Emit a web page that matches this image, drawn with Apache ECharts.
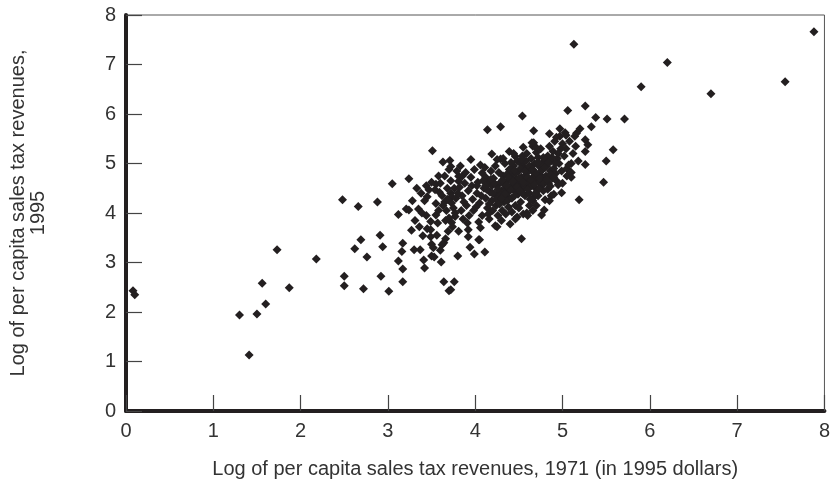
<!DOCTYPE html>
<html>
<head>
<meta charset="utf-8">
<script src="https://cdn.jsdelivr.net/npm/echarts@6/dist/echarts.min.js"></script>
<style>
  html, body { margin: 0; padding: 0; background: #ffffff; }
  #chart { width: 833px; height: 487px; }
</style>
</head>
<body>
<div id="chart"></div>
<script>
// Log of per capita sales tax revenues: [1971 (1995 dollars), 1995]
const xTicks = [0, 1, 2, 3, 4, 5, 6, 7, 8];
const yTicks = [0, 1, 2, 3, 4, 5, 6, 7, 8];

// States / jurisdictions with low 1971 revenues
const lowTail = [
  [0.08, 2.43], [0.10, 2.35],
  [1.30, 1.94], [1.41, 1.13], [1.50, 1.96], [1.60, 2.16], [1.56, 2.58],
  [1.73, 3.26], [1.87, 2.49], [2.18, 3.07],
  [2.48, 4.27], [2.50, 2.72], [2.50, 2.53], [2.66, 4.13], [2.69, 3.46],
  [2.62, 3.28], [2.76, 3.11], [2.72, 2.47], [2.88, 4.22], [2.91, 3.55],
  [2.94, 3.32], [2.92, 2.72], [3.01, 2.42], [3.05, 4.59]
];

// Left side of the main cluster
const clusterLeft = [
  [3.12, 3.97], [3.17, 3.39], [3.16, 3.22], [3.12, 3.03], [3.17, 2.87], [3.17, 2.61],
  [3.24, 4.69], [3.21, 4.08], [3.24, 4.06], [3.27, 3.65], [3.30, 3.26], [3.37, 3.26],
  [3.31, 3.85], [3.40, 3.54], [3.42, 2.89], [3.41, 3.05], [3.35, 4.08], [3.39, 4.00],
  [3.51, 5.26], [3.47, 4.47], [3.45, 4.33], [3.50, 4.62], [3.49, 3.83], [3.49, 3.66],
  [3.49, 3.52], [3.50, 3.37], [3.52, 3.30], [3.50, 3.13], [3.53, 3.11],
  [3.61, 3.01], [3.64, 2.61], [3.76, 2.61], [3.70, 2.43], [3.72, 2.45],
  [3.62, 3.36], [3.64, 3.40], [3.66, 3.48], [3.69, 3.63], [3.80, 3.13], [3.81, 3.63],
  [3.73, 3.81], [3.77, 3.93], [3.55, 4.19], [3.55, 3.96], [3.59, 4.42], [3.54, 4.47],
  [3.72, 4.40], [3.73, 4.33], [3.63, 5.03], [3.71, 5.06], [3.72, 4.94], [3.81, 4.74],
  [3.85, 4.74], [3.81, 4.64], [3.73, 4.20], [3.65, 4.22],
  [3.38, 4.40], [3.42, 4.25], [3.44, 4.55], [3.36, 3.72], [3.44, 3.95], [3.58, 4.75],
  [3.55, 4.58], [3.57, 3.80], [3.45, 3.68], [3.56, 3.55], [3.60, 3.25], [3.33, 4.50],
  [3.28, 4.25], [3.60, 4.60], [3.62, 4.35], [3.65, 4.75], [3.67, 4.05], [3.68, 4.50],
  [3.70, 3.90], [3.72, 4.65], [3.75, 4.10], [3.76, 4.50], [3.78, 4.30], [3.79, 4.85],
  [3.63, 4.15], [3.66, 3.85], [3.74, 3.72], [3.77, 4.00], [3.70, 4.88], [3.58, 4.05],
  [3.68, 4.28]
];

// Dense centre of the cluster
const clusterCore = [
  [3.92, 3.66], [3.92, 3.52], [3.94, 3.31], [3.99, 3.17], [4.11, 3.21], [4.05, 3.46],
  [3.95, 5.08], [4.04, 3.46],
  [3.82, 4.52], [3.85, 4.35], [3.88, 4.60], [3.90, 4.15], [3.92, 4.45], [3.95, 4.72],
  [3.97, 4.28], [3.84, 4.05], [3.86, 3.88], [3.93, 3.95], [3.98, 4.05], [3.89, 4.82],
  [3.80, 4.40], [3.96, 4.55], [3.99, 4.88], [3.87, 4.22], [3.91, 3.80], [3.83, 4.95],
  [4.02, 4.40], [4.03, 4.62], [4.05, 4.20], [4.06, 4.97], [4.08, 4.81], [4.08, 3.95],
  [4.10, 4.50], [4.12, 4.30], [4.12, 4.72], [4.14, 4.10], [4.15, 4.60], [4.16, 3.88],
  [4.17, 4.42], [4.18, 4.85], [4.19, 4.25], [4.20, 4.05], [4.01, 4.12], [4.04, 3.82],
  [4.07, 4.35], [4.11, 4.92], [4.13, 4.48], [4.09, 4.65], [4.16, 4.18], [4.19, 4.55],
  [4.06, 3.70], [4.15, 3.98], [4.02, 4.55],
  [4.14, 5.68], [4.29, 5.74], [4.19, 5.19], [4.29, 5.09], [4.39, 5.24], [4.46, 5.14],
  [4.21, 4.70], [4.22, 4.38], [4.23, 4.95], [4.24, 4.15], [4.25, 4.55], [4.26, 3.95],
  [4.27, 4.82], [4.28, 4.30], [4.29, 4.62], [4.30, 4.45], [4.31, 4.05], [4.32, 4.75],
  [4.33, 4.22], [4.34, 5.00], [4.35, 4.50], [4.36, 4.35], [4.37, 4.65], [4.38, 4.12],
  [4.39, 4.88], [4.30, 3.85], [4.25, 5.08], [4.33, 4.58], [4.27, 4.40], [4.36, 4.78],
  [4.22, 4.60], [4.38, 4.42], [4.24, 4.28], [4.35, 3.98], [4.32, 5.10], [4.28, 4.18],
  [4.37, 4.25], [4.23, 3.74], [4.40, 3.78], [4.25, 3.72],
  [4.41, 4.55], [4.42, 4.30], [4.43, 4.78], [4.44, 4.95], [4.45, 4.45], [4.46, 4.15],
  [4.47, 4.68], [4.48, 5.05], [4.49, 4.38], [4.50, 4.85], [4.51, 4.58], [4.52, 4.22],
  [4.53, 4.72], [4.54, 5.15], [4.55, 4.48], [4.56, 4.92], [4.57, 4.35], [4.58, 4.65],
  [4.59, 4.82], [4.42, 4.02], [4.48, 3.92], [4.44, 5.20], [4.52, 5.00], [4.46, 4.62],
  [4.56, 4.55], [4.50, 4.10], [4.58, 5.05], [4.40, 4.70], [4.54, 4.40], [4.47, 4.82],
  [4.43, 4.50], [4.57, 4.75], [4.41, 4.88], [4.55, 3.98], [4.46, 3.88], [4.59, 4.00],
  [4.53, 3.48], [4.55, 5.33],
  [4.61, 4.60], [4.62, 4.40], [4.63, 4.90], [4.64, 5.10], [4.65, 4.70], [4.66, 4.25],
  [4.67, 4.82], [4.68, 5.00], [4.69, 4.50], [4.70, 5.22], [4.71, 4.65], [4.72, 4.35],
  [4.73, 4.95], [4.74, 4.78], [4.75, 5.30], [4.76, 4.55], [4.77, 4.88], [4.78, 4.45],
  [4.79, 5.05], [4.62, 4.15], [4.66, 5.35], [4.70, 4.15], [4.74, 4.62], [4.68, 4.72],
  [4.64, 4.55], [4.72, 5.12], [4.76, 4.98], [4.61, 4.85], [4.78, 4.70], [4.67, 4.32],
  [4.73, 4.48], [4.65, 5.42], [4.79, 4.60], [4.67, 5.42], [4.70, 5.32],
  [4.76, 3.96], [4.79, 4.06], [4.80, 4.27], [4.60, 3.95], [4.66, 4.05],
  [4.81, 4.75], [4.82, 4.95], [4.83, 5.15], [4.84, 4.60], [4.85, 5.35], [4.86, 4.85],
  [4.87, 5.05], [4.88, 4.70], [4.89, 5.25], [4.90, 4.90], [4.91, 5.45], [4.92, 4.80],
  [4.94, 5.10], [4.96, 5.00], [4.98, 5.30], [4.83, 4.48], [4.87, 4.35], [4.93, 4.65],
  [4.97, 5.55], [4.99, 4.85], [4.85, 5.60], [4.95, 5.20], [4.81, 5.05],
  [4.99, 4.41], [4.95, 4.57], [4.86, 4.54], [4.85, 4.25], [4.90, 4.38],
  // darkest part of the band
  [4.26, 4.48], [4.31, 4.66], [4.34, 4.38], [4.38, 4.72], [4.40, 4.48], [4.43, 4.64],
  [4.45, 4.86], [4.48, 4.52], [4.50, 4.70], [4.52, 4.90], [4.55, 4.62], [4.57, 4.85],
  [4.60, 4.72], [4.62, 4.95], [4.64, 4.66], [4.66, 4.88], [4.68, 4.58], [4.70, 4.80],
  [4.72, 5.02], [4.74, 4.70], [4.76, 4.86], [4.78, 5.12], [4.80, 4.92], [4.82, 4.68],
  [4.84, 5.02], [4.86, 4.78], [4.88, 5.12], [4.90, 4.72], [4.92, 5.00], [4.45, 4.35],
  [4.51, 4.45], [4.60, 4.48], [4.63, 4.28], [4.69, 4.40], [4.36, 4.55], [4.30, 4.30],
  [4.20, 4.40], [4.18, 4.68], [4.12, 4.55], [4.41, 5.02], [4.53, 5.08], [4.59, 5.20]
];

// Right side of the cluster and the high-revenue tail
const upperTail = [
  [5.00, 5.40], [5.02, 5.15], [5.04, 5.30], [5.05, 4.90], [5.08, 5.45], [5.12, 5.20],
  [5.15, 5.35], [5.18, 5.05], [5.03, 5.62], [5.14, 5.55], [5.20, 5.70], [5.10, 5.00],
  [5.00, 4.60], [5.05, 4.75], [5.07, 4.97], [5.10, 4.82], [5.10, 4.72],
  [4.93, 5.53], [5.04, 5.57], [5.16, 5.61], [5.26, 5.48], [5.29, 5.38], [5.58, 5.28],
  [5.50, 5.05], [5.47, 4.62], [5.19, 4.27], [5.26, 4.98], [5.26, 5.24],
  [4.54, 5.96], [4.67, 5.66], [4.97, 5.70], [5.06, 6.07], [5.26, 6.16], [5.38, 5.93],
  [5.51, 5.90], [5.71, 5.90], [5.33, 5.74],
  [5.13, 7.41], [5.90, 6.55], [6.20, 7.04], [6.70, 6.41], [7.55, 6.65], [7.88, 7.66]
];

const points = lowTail.concat(clusterLeft, clusterCore, upperTail);

const ink = '#231f20';
const font = '"Liberation Sans", Arial, Helvetica, sans-serif';

const chart = echarts.init(document.getElementById('chart'), null, { renderer: 'canvas' });

chart.setOption({
  animation: false,
  backgroundColor: '#ffffff',
  grid: {
    left: 126, right: 6, top: 15, bottom: 76,
    show: true, borderColor: '#555555', borderWidth: 1, backgroundColor: 'transparent'
  },
  xAxis: {
    type: 'value',
    min: xTicks[0], max: xTicks[xTicks.length - 1], interval: 1,
    name: 'Log of per capita sales tax revenues, 1971 (in 1995 dollars)',
    nameLocation: 'middle', nameGap: 48,
    nameTextStyle: { color: '#333333', fontFamily: font, fontSize: 20 },
    axisLine: { show: true, onZero: false, lineStyle: { color: ink, width: 4 } },
    axisTick: { show: true, inside: true, length: 16, lineStyle: { color: '#444444', width: 1.2 } },
    axisLabel: { color: '#333333', fontFamily: font, fontSize: 20, margin: 10 },
    splitLine: { show: false }
  },
  yAxis: {
    type: 'value',
    min: yTicks[0], max: yTicks[yTicks.length - 1], interval: 1,
    name: 'Log of per capita sales tax revenues,\n1995',
    nameLocation: 'middle', nameGap: 78, nameRotate: 90,
    nameTextStyle: { color: '#333333', fontFamily: font, fontSize: 20, lineHeight: 20, align: 'center' },
    axisLine: { show: true, onZero: false, lineStyle: { color: ink, width: 4 } },
    axisTick: { show: true, inside: true, length: 16, lineStyle: { color: '#444444', width: 1.2 } },
    axisLabel: { color: '#333333', fontFamily: font, fontSize: 20, margin: 10 },
    splitLine: { show: false }
  },
  series: [{
    type: 'scatter',
    data: points,
    symbol: 'diamond',
    symbolSize: [9, 9],
    itemStyle: { color: ink, opacity: 1 },
    emphasis: { disabled: true }
  }]
});
</script>
</body>
</html>
